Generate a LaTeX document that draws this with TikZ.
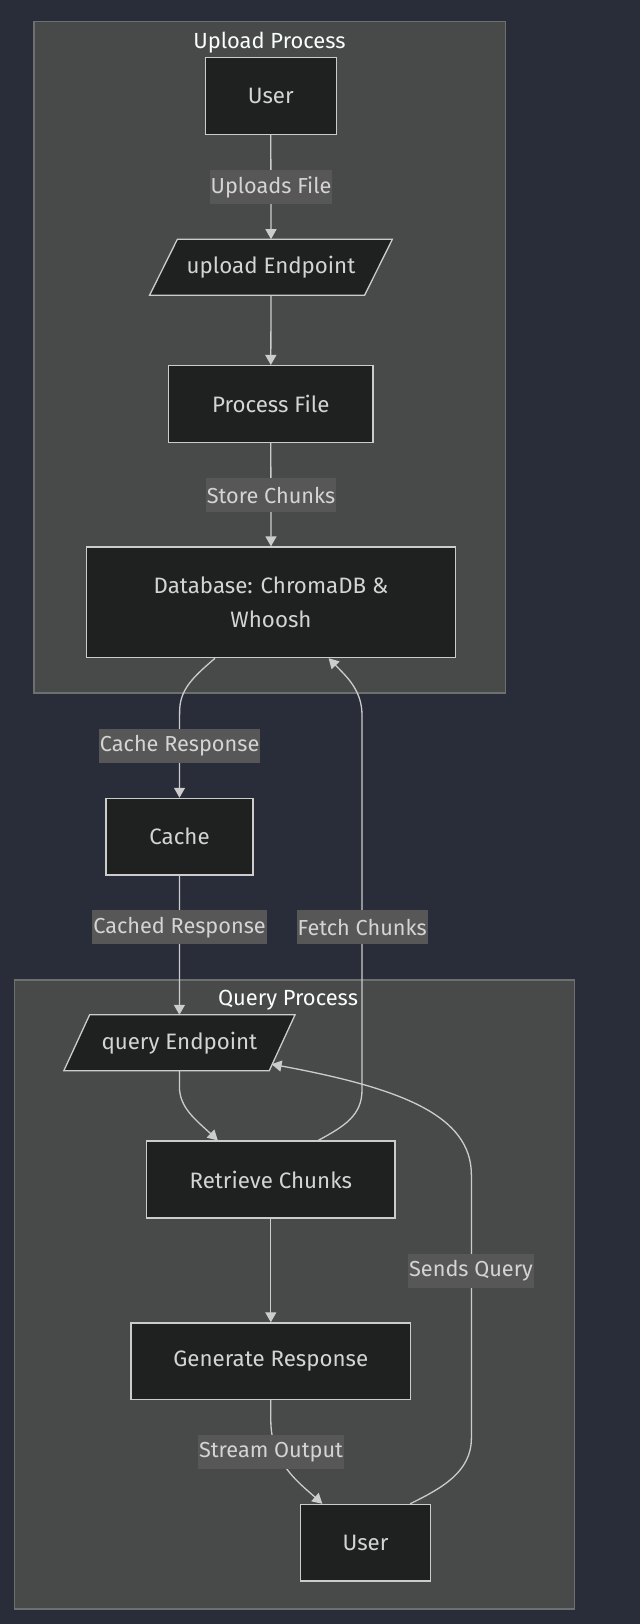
\documentclass[tikz,border=0pt]{standalone}
\usepackage{fontspec}
\setmainfont{Fira Sans}
\usetikzlibrary{arrows.meta}
\definecolor{bgc}{HTML}{292D39}
\definecolor{clfill}{HTML}{484949}
\definecolor{clborder}{HTML}{6E7070}
\definecolor{nodefill}{HTML}{1F2020}
\definecolor{nodeline}{HTML}{CCCCCC}
\definecolor{txt}{HTML}{D4D4D4}
\definecolor{lblbg}{HTML}{575757}
\definecolor{ttl}{HTML}{F9FFFE}
\begin{document}
\begin{tikzpicture}[x=1pt,y=-1pt,
  every node/.style={font=\fontsize{22.3}{33.5}\selectfont, text=txt},
  cluster/.style={fill=clfill, draw=clborder, line width=1.2pt},
  boxnode/.style={draw=nodeline, fill=nodefill, line width=1.3pt, inner sep=0pt},
  paranode/.style={inner sep=0pt, minimum height=55.6},
  lbl/.style={fill=lblbg, inner xsep=1pt, inner ysep=0pt, minimum height=33.6, font=\fontsize{21.7}{26}\selectfont},
  ttlnode/.style={text=ttl, inner sep=0pt, font=\fontsize{21.9}{26}\selectfont},
  edge/.style={draw=nodeline, line width=1.3pt, -{Triangle[length=10pt,width=11pt]}},
  plainedge/.style={draw=nodeline, line width=1.3pt}
]
\useasboundingbox[fill=bgc] (0,0) rectangle (640,1624);

% clusters
\draw[cluster] (33.9,21.9) rectangle (505.3,693);
\node[ttlnode] (t1) at (269.4,43) {Upload Process};
\draw[cluster] (14.3,980) rectangle (574.3,1609);
\node[ttlnode] (t2) at (288,1000.5) {Query Process};

% upload nodes
\node[boxnode, minimum width=131, minimum height=77] (u1) at (270.8,96) {User};
\node[paranode, minimum width=214.6] (up) at (271,267.2) {upload Endpoint};
\draw[draw=nodeline, fill=nodefill, line width=1.3pt]
  ([xshift=13.9]up.north west) -- ([xshift=13.9]up.north east)
  -- ([xshift=-13.9]up.south east) -- ([xshift=-13.9]up.south west) -- cycle;
\node[paranode, minimum width=214.6] at (271,267.2) {upload Endpoint};
\node[boxnode, minimum width=204.4, minimum height=76.8] (pf) at (270.8,404) {Process File};
\node[boxnode, minimum width=369, minimum height=110.6, align=center] (db) at (271,602.3) {Database: ChromaDB \&\\Whoosh};

% middle
\node[boxnode, minimum width=147, minimum height=76.6] (ca) at (179.5,836.7) {Cache};

% query nodes
\node[paranode, minimum width=205] (qe) at (179.4,1042.8) {query Endpoint};
\draw[draw=nodeline, fill=nodefill, line width=1.3pt]
  ([xshift=12.9]qe.north west) -- ([xshift=12.9]qe.north east)
  -- ([xshift=-12.9]qe.south east) -- ([xshift=-12.9]qe.south west) -- cycle;
\node[paranode, minimum width=205] at (179.4,1042.8) {query Endpoint};
\node[boxnode, minimum width=248.5, minimum height=77] (rc) at (270.8,1179.5) {Retrieve Chunks};
\node[boxnode, minimum width=279.6, minimum height=76.5] (gr) at (270.8,1361.2) {Generate Response};
\node[boxnode, minimum width=130.2, minimum height=76.6] (u2) at (365.5,1542.7) {User};

% edges
\draw[edge] (u1.south) -- (up.north);
\draw[edge] (up.south) -- (pf.north);
\draw[edge] (pf.south) -- (db.north);
\draw[edge] ([xshift=-56]db.south) .. controls (192,678) and (179.6,690) .. (179.6,712) -- (ca.north);
\draw[edge] (ca.south) -- (qe.north);
\draw[edge] (qe.south) -- ++(0,16) .. controls (179.6,1108) and (196,1120) .. ([xshift=-53]rc.north);
\draw[edge] ([xshift=47.5]rc.north) .. controls (345,1126) and (362,1115) .. (362,1090)
  -- (362,715) .. controls (362,690) and (346,676) .. ([xshift=57.6]db.south);
\draw[edge] (rc.south) -- (gr.north);
\draw[edge] (gr.south) -- ++(0,20) .. controls (270.8,1462) and (298,1482) .. ([xshift=-43.1]u2.north);
\draw[edge] ([xshift=44.7]u2.north) .. controls (442,1488) and (471.4,1472) .. (471.4,1438)
  -- (471.4,1175) .. controls (471.4,1115) and (400,1088) .. ([xshift=-10.5,yshift=6.6]qe.south east);

% edge labels
\node[lbl] (l1) at (271,187) {Uploads File};
\node[lbl] (l2) at (271,495) {Store Chunks};
\node[lbl] (l3) at (179.6,745.7) {Cache Response};
\node[lbl] (l4) at (179.5,927.2) {Cached Response};
\node[lbl] (l5) at (362.2,927.2) {Fetch Chunks};
\node[lbl] (l6) at (471,1271) {Sends Query};
\node[lbl] (l7) at (271,1452) {Stream Output};
\end{tikzpicture}
\end{document}
